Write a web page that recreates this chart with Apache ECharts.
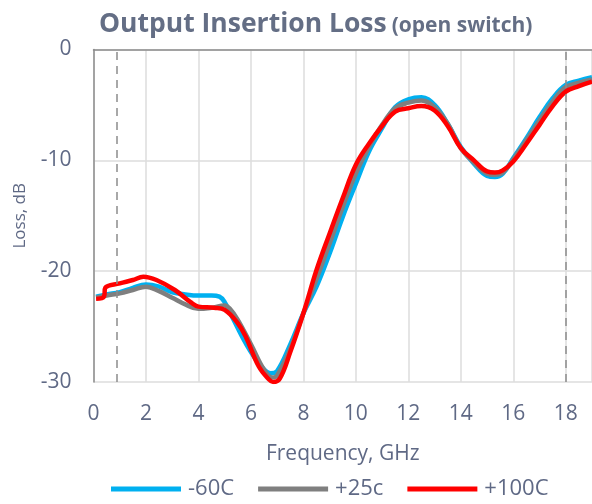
<!DOCTYPE html>
<html>
<head>
<meta charset="utf-8">
<script src="https://cdn.jsdelivr.net/npm/echarts@6/dist/echarts.min.js"></script>
<style>html,body{margin:0;padding:0;background:#fff}#c{width:592px;height:504px}</style>
</head>
<body>
<div id="c"></div>
<script>
const titleMain = 'Output Insertion Loss';
const titleSub = '(open switch)';
const yAxisName = 'Loss, dB';
const xAxisName = 'Frequency, GHz';
const seriesNames = ['-60C', '+25c', '+100C'];
const markerFreqs = [0.9, 18];

const freqM60 = [0.1, 0.5, 1, 1.5, 2, 2.5, 3, 3.5, 4, 4.5, 4.8, 5.0, 5.3, 5.8, 6.3, 6.75, 7, 7.5, 8, 8.5, 9, 9.5, 10, 10.5, 11, 11.5, 12, 12.5, 13, 13.5, 14, 14.5, 15, 15.3, 15.6, 16, 16.5, 17, 17.5, 18, 18.5, 19];
const lossM60 = [-22.3, -22.1, -21.9, -21.5, -21.2, -21.4, -21.9, -22.1, -22.2, -22.2, -22.3, -22.8, -24.2, -26.5, -28.3, -29.2, -29.0, -26.6, -23.8, -21.4, -18.4, -15.1, -12.1, -9.2, -7.1, -5.2, -4.5, -4.3, -5.0, -6.7, -8.8, -10.3, -11.4, -11.5, -11.2, -9.8, -8.0, -6.1, -4.4, -3.2, -2.8, -2.5];

const freqP25 = [0.1, 0.5, 1, 1.5, 2, 2.5, 3, 3.5, 4, 4.5, 5, 5.2, 5.5, 6, 6.5, 6.8, 7, 7.5, 8, 8.5, 9, 9.5, 10, 10.5, 11, 11.5, 12, 12.5, 13, 13.5, 14, 14.5, 15, 15.3, 15.6, 16, 16.5, 17, 17.5, 18, 18.5, 19];
const lossP25 = [-22.4, -22.2, -22.0, -21.7, -21.4, -21.8, -22.4, -23.0, -23.4, -23.3, -23.1, -23.4, -24.4, -26.6, -28.9, -29.6, -29.4, -27.0, -23.8, -20.7, -17.5, -14.2, -11.2, -8.8, -6.8, -5.3, -4.8, -4.6, -5.2, -6.7, -8.9, -10.2, -11.2, -11.3, -11.1, -9.9, -8.2, -6.4, -4.7, -3.4, -3.0, -2.7];

const freqP100 = [0.1, 0.4, 0.45, 1, 1.5, 1.9, 2.4, 3.1, 3.7, 4, 4.6, 5, 5.5, 5.8, 6.3, 6.7, 6.85, 7.1, 7.5, 8, 8.5, 9, 9.5, 10, 10.5, 11, 11.5, 12, 12.5, 13, 13.5, 14, 14.5, 15, 15.3, 15.6, 16, 16.5, 17, 17.5, 18, 18.5, 19];
const lossP100 = [-22.5, -22.3, -21.5, -21.1, -20.8, -20.5, -20.8, -21.7, -22.8, -23.2, -23.3, -23.5, -24.7, -25.9, -28.6, -29.8, -30.0, -29.7, -27.3, -23.8, -19.9, -16.6, -13.4, -10.4, -8.5, -6.9, -5.6, -5.3, -5.1, -5.5, -6.9, -8.9, -10.0, -11.0, -11.1, -10.9, -10.1, -8.5, -6.8, -5.1, -3.8, -3.3, -2.9];

const colors = ['#00b0f0', '#7f7f7f', '#ff0000'];
const txt = '#5f6985';

function pairs(xs, ys) { return xs.map((x, i) => [x, ys[i]]); }

const chart = echarts.init(document.getElementById('c'), null, {renderer: 'canvas'});
chart.setOption({
  animation: false,
  backgroundColor: '#ffffff',
  title: {
    text: '{a|' + titleMain + '} {b|' + titleSub + '}',
    left: 94, top: 6,
    textStyle: {
      rich: {
        a: {fontFamily: 'Open Sans', fontWeight: 'bold', fontSize: 26.5, color: '#646e85'},
        b: {fontFamily: 'Open Sans', fontWeight: 'bold', fontSize: 21, color: '#646e85', padding: [4, 0, 0, 0]}
      }
    }
  },
  grid: {left: 93.5, right: -4, top: 49.5, bottom: 122},
  legend: {
    bottom: -1, left: 106,
    icon: 'rect', itemWidth: 70, itemHeight: 5, itemGap: 24,
    textStyle: {fontFamily: 'Open Sans', fontSize: 22, color: txt, padding: [0, 0, 0, 2]},
    data: seriesNames
  },
  xAxis: {
    type: 'value', min: 0, max: 19, interval: 2,
    name: xAxisName, nameLocation: 'middle', nameGap: 62,
    nameTextStyle: {fontFamily: 'Open Sans', fontSize: 21, color: txt},
    axisLine: {show: true, lineStyle: {color: '#8c8c8c', width: 1.5}},
    axisTick: {show: false},
    axisLabel: {fontFamily: 'Open Sans', fontSize: 21, color: txt, margin: 22, showMaxLabel: false},
    splitLine: {show: true, lineStyle: {color: '#dcdcdc', width: 1.5}}
  },
  yAxis: {
    type: 'value', min: -30, max: 0, interval: 10,
    name: yAxisName, nameLocation: 'middle', nameGap: 65, nameRotate: 90,
    nameTextStyle: {fontFamily: 'Open Sans', fontSize: 17, color: txt},
    axisLine: {show: true, lineStyle: {color: '#8c8c8c', width: 1.5}},
    axisTick: {show: false},
    axisLabel: {fontFamily: 'Open Sans', fontSize: 21, color: txt, margin: 22},
    splitLine: {show: true, lineStyle: {color: '#dcdcdc', width: 1.5}}
  },
  series: [
    {name: seriesNames[0], type: 'line', data: pairs(freqM60, lossM60), smooth: 0.4, showSymbol: false,
     lineStyle: {color: colors[0], width: 4.5}, itemStyle: {color: colors[0]}, z: 2,
     markLine: {silent: true, symbol: 'none', label: {show: false},
       lineStyle: {color: '#8c8c8c', type: [8, 6], width: 1.5},
       data: markerFreqs.map(f => ({xAxis: f}))}},
    {name: seriesNames[1], type: 'line', data: pairs(freqP25, lossP25), smooth: 0.4, showSymbol: false,
     lineStyle: {color: colors[1], width: 4.5}, itemStyle: {color: colors[1]}, z: 3},
    {name: seriesNames[2], type: 'line', data: pairs(freqP100, lossP100), smooth: 0.4, showSymbol: false,
     lineStyle: {color: colors[2], width: 4.5}, itemStyle: {color: colors[2]}, z: 4}
  ]
});
</script>
</body>
</html>
